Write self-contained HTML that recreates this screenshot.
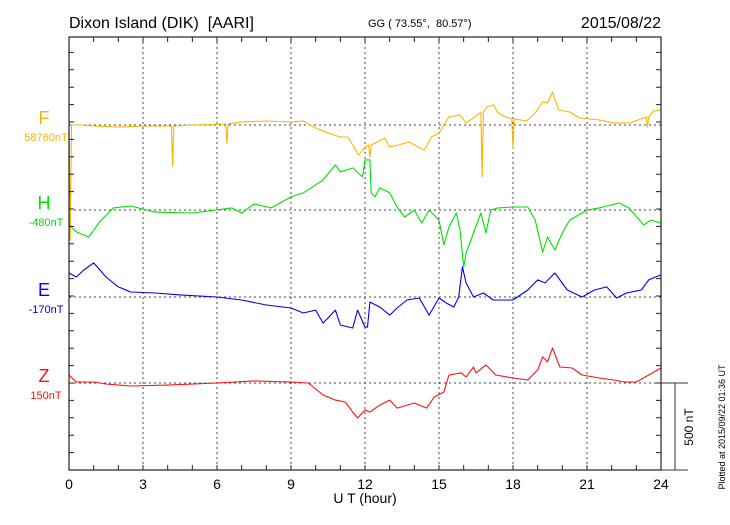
<!DOCTYPE html>
<html><head><meta charset="utf-8"><style>
body{margin:0;background:#fff;width:730px;height:520px;overflow:hidden}
svg text{font-family:"Liberation Sans",sans-serif;white-space:pre}
</style></head><body>
<svg id="chart" width="730" height="520" xmlns="http://www.w3.org/2000/svg">
<text x="69" y="28" font-size="16" xml:space="preserve">Dixon Island (DIK)  [AARI]</text>
<text x="368" y="27" font-size="11" xml:space="preserve">GG ( 73.55°,  80.57°)</text>
<text x="661" y="28" font-size="16" text-anchor="end">2015/08/22</text>
<g id="grid"></g>
<g id="series"></g>
<g id="axes"></g>
<text x="365" y="503" font-size="14" text-anchor="middle">U T (hour)</text>
<text x="693" y="427" font-size="12" text-anchor="middle" transform="rotate(-90 693 427)">500 nT</text>
<text x="725" y="427" font-size="9" text-anchor="middle" transform="rotate(-90 725 427)">Plotted at 2015/09/22 01:36 UT</text>
</svg>
<script>
const xTicks=[0,3,6,9,12,15,18,21,24];
const seriesNames=["F","H","E","Z"];
const seriesBaseLabels=["58760nT","-480nT","-170nT","150nT"];
const fH=[0,0.05,0.1,0.5,1,2,3,4.15,4.2,4.25,5,6.35,6.4,6.45,7,8,9,9.5,10,10.5,11,11.3,11.5,11.75,12,12.15,12.2,12.25,12.5,12.8,13,13.8,14.4,14.7,15,15.4,15.85,16.1,16.45,16.7,16.75,16.8,16.95,17.2,17.4,17.7,17.95,18,18.05,18.55,18.9,19.2,19.4,19.6,19.85,20.3,20.7,21.5,22.1,22.75,23.4,23.45,23.5,23.7,24];
const fV=[46,-661,0,0,-6,-12,-6,-6,-236,-6,0,6,-104,6,17,23,17,23,-17,-46,-69,-69,-115,-173,-127,-115,-184,-115,-98,-75,-127,-98,-144,-69,-46,46,58,12,46,75,-299,75,104,115,69,46,35,-132,35,23,69,132,127,190,86,75,40,29,12,12,46,-12,46,81,86];
const hH=[0,0.3,0.8,1.3,1.8,2.5,3.5,5,6.6,7,7.5,8.2,9,9.5,10.3,10.8,11,11.5,11.9,12,12.2,12.25,12.4,12.6,13,13.3,13.6,14,14.3,14.6,15,15.2,15.4,15.7,15.85,16,16.1,16.4,16.7,16.9,17.1,17.4,18,18.6,18.9,19.2,19.4,19.7,20,20.3,21,21.5,22.3,22.7,23.3,23.6,24];
const hV=[-86,-126,-155,-58,12,23,-12,-17,12,-17,35,12,75,98,173,259,219,242,190,288,288,98,75,127,98,17,-40,0,-75,0,-58,-201,-98,-17,-115,-328,-247,-132,-17,-132,0,12,17,17,-58,-242,-155,-230,-132,-58,0,12,40,12,-86,-58,-75];
const eH=[0,0.3,0.6,1,1.5,2,2.5,3.5,4.5,6,7,8,9,9.5,10,10.3,10.8,11,11.5,11.7,12,12.1,12.2,12.6,13,13.3,13.7,14.2,14.6,15,15.3,15.6,15.8,15.95,16.1,16.4,16.8,17.2,18,18.6,19,19.3,19.7,20.2,20.8,21.3,21.8,22.2,22.6,23.2,23.5,24];
const eV=[138,115,155,196,115,58,29,23,12,0,-17,-46,-63,-92,-75,-150,-75,-161,-178,-75,-173,-173,-29,-58,-104,-63,-17,-6,-104,-6,-35,-58,0,173,81,0,23,-17,-17,40,98,81,138,40,0,40,58,-6,23,40,98,127];
const zH=[0,0.3,1,1.5,2.5,4,6,7.5,9,9.7,10.3,10.8,11.2,11.5,11.7,12,12.2,12.6,13,13.3,14,14.5,14.8,15.2,15.4,15.9,16.1,16.4,16.5,16.9,17.3,18,18.6,19,19.2,19.4,19.6,19.9,20.4,20.8,21.5,22.1,22.5,23,23.5,24];
const zV=[46,6,6,-6,-17,-12,0,12,6,0,-69,-98,-109,-167,-201,-155,-167,-127,-98,-144,-115,-144,-81,-52,46,58,35,92,58,104,46,29,17,75,150,121,201,92,86,46,29,17,6,6,46,86];

const NS="http://www.w3.org/2000/svg";
const L=69,R=661,T=37,B=470;
const baselines=[125,210,297,383];
const colors=["#f7b500","#00e000","#0000ee","#ff1010"];
const X=h=>L+h*(R-L)/24;
const Y=(v,i)=>baselines[i]-v*87/500;
function mk(tag,attrs,parent){const e=document.createElementNS(NS,tag);for(const k in attrs)e.setAttribute(k,attrs[k]);parent.appendChild(e);return e;}
const grid=document.getElementById('grid'),axes=document.getElementById('axes'),ser=document.getElementById('series');
xTicks.forEach(t=>{if(t>0&&t<24){const g=mk('line',{x1:X(t),x2:X(t),y1:T,y2:B,stroke:'#444','stroke-width':1,'stroke-dasharray':'2,3'},grid);

}
const tx=mk('text',{x:X(t),y:489,'font-size':14,'text-anchor':'middle'},axes);tx.textContent=t;

});
baselines.forEach((b,i)=>{const g=mk('line',{x1:L,x2:R,y1:b,y2:b,stroke:'#444','stroke-width':1,'stroke-dasharray':'2,3'},grid);


const n=mk('text',{x:44,y:b-1,'font-size':18,'text-anchor':'middle',fill:colors[i]},axes);n.textContent=seriesNames[i];


const bl=mk('text',{x:46,y:b+16,'font-size':11,'text-anchor':'middle',fill:colors[i]},axes);bl.textContent=seriesBaseLabels[i];

});
const data=[[fH,fV],[hH,hV],[eH,eV],[zH,zV]];
data.forEach((d,i)=>{const pts=d[0].map((h,k)=>X(h).toFixed(1)+','+Y(d[1][k],i).toFixed(1)).join(' ');
const p=mk('polyline',{points:pts,fill:'none',stroke:colors[i],'stroke-width':1.1,'stroke-linejoin':'round'},ser);

});
const fr=mk('rect',{x:L,y:T,width:R-L,height:B-T,fill:'none',stroke:'#222','stroke-width':1.2},axes);


let tk='';
for(let h=1;h<24;h++){tk+=`M${X(h)},${T}v5M${X(h)},${B}v-5`;}
for(let y=B;y>T;y-=87/5){tk+=`M${L},${y}h5M${R},${y}h-5`;}
const tp=mk('path',{d:tk,stroke:'#222','stroke-width':1,fill:'none'},axes);


const sb=mk('path',{d:`M${R},383H688M675,383V${B}M${R},${B}H688`,stroke:'#333','stroke-width':1,fill:'none'},axes);


</script>
</body></html>
